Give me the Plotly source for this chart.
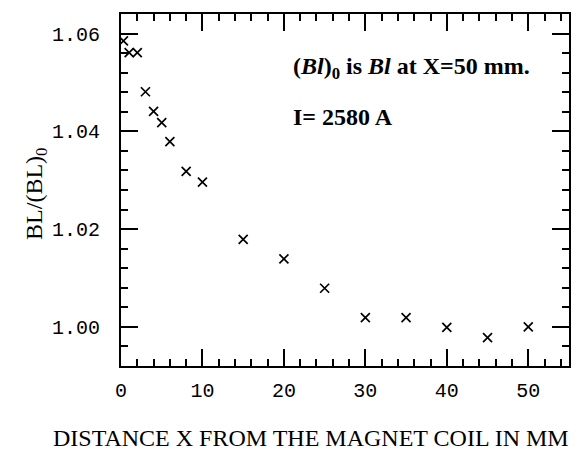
import plotly.graph_objects as go

# Data
distance_mm = [0.3, 1, 2, 3, 4, 5, 6, 8, 10, 15, 20, 25, 30, 35, 40, 45, 50]
bl_ratio = [1.0585, 1.0561, 1.0561, 1.0481, 1.0441, 1.0418, 1.0379, 1.0318, 1.0296,
            1.0179, 1.0139, 1.0079, 1.0019, 1.0019, 0.9999, 0.9978, 1.0000]

x_tick_step = 10
y_tick_step = 0.02

x_title = "DISTANCE X FROM THE MAGNET COIL IN MM"
y_title = "BL/(BL)<sub>0</sub>"
note1 = "<b>(<i>Bl</i>)<sub>0</sub> is <i>Bl</i> at X=50 mm.</b>"
note2 = "<b>I= 2580 A</b>"

fig = go.Figure()
fig.add_trace(go.Scatter(
    x=distance_mm, y=bl_ratio, mode="markers",
    marker=dict(symbol="x-thin", size=9, line=dict(width=1.7, color="black"), color="black"),
    showlegend=False,
))

tick_font = dict(family="Liberation Mono", size=20, color="black")
axis_common = dict(
    showline=True, linecolor="black", linewidth=2, mirror="allticks",
    ticks="inside", ticklen=17, tickwidth=2, tickcolor="black",
    showgrid=False, zeroline=False, tickfont=tick_font,
)

fig.update_xaxes(
    range=[0, 55], tickmode="linear", tick0=0, dtick=x_tick_step,
    minor=dict(tickmode="linear", dtick=2, tick0=0, ticks="inside", ticklen=7,
               tickwidth=1.6, tickcolor="black", showgrid=False),
    ticklabelstandoff=5,
    **axis_common,
)
fig.update_yaxes(
    range=[0.992, 1.064], tickmode="linear", tick0=1.0, dtick=y_tick_step, tickformat=".2f",
    minor=dict(tickmode="linear", dtick=0.004, tick0=1.0, ticks="inside", ticklen=7,
               tickwidth=1.6, tickcolor="black", showgrid=False),
    ticklabelstandoff=15,
    **axis_common,
)

fig.add_annotation(text=x_title, xref="paper", yref="paper", x=0.425, y=-0.2045,
                   xanchor="center", yanchor="middle", showarrow=False,
                   font=dict(family="Liberation Serif", size=24, color="black"))
fig.add_annotation(text=y_title, xref="paper", yref="paper", x=-0.191, y=0.49,
                   xanchor="center", yanchor="middle", textangle=-90, showarrow=False,
                   font=dict(family="Liberation Serif", size=24, color="black"))
fig.add_annotation(text=note1, xref="paper", yref="paper", x=0.379, y=0.8466,
                   xanchor="left", yanchor="middle", showarrow=False,
                   font=dict(family="Liberation Serif", size=24, color="black"))
fig.add_annotation(text=note2, xref="paper", yref="paper", x=0.379, y=0.708,
                   xanchor="left", yanchor="middle", showarrow=False,
                   font=dict(family="Liberation Serif", size=24, color="black"))

fig.update_layout(
    width=581, height=450,
    margin=dict(l=121, r=10, t=14, b=84),
    paper_bgcolor="white", plot_bgcolor="white",
)

fig.write_html("out.html")
